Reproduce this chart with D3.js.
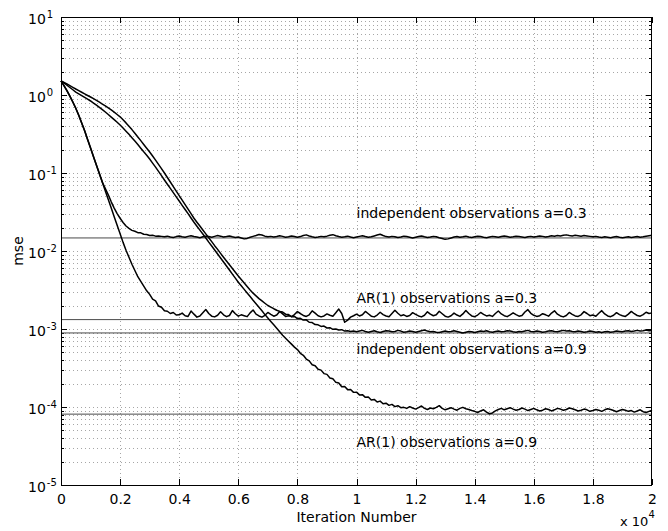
<!DOCTYPE html>
<html><head><meta charset="utf-8">
<script src="https://cdn.jsdelivr.net/npm/d3@7"></script>
<style>body{margin:0;background:#fff}</style>
</head><body>
<svg id="c" width="668" height="531"></svg>
<script>
// ---------- data ----------
const xTickValues = [0, 2000, 4000, 6000, 8000, 10000, 12000, 14000, 16000, 18000, 20000];
const xTickLabels = ["0", "0.2", "0.4", "0.6", "0.8", "1", "1.2", "1.4", "1.6", "1.8", "2"];
const yExponents = [1, 0, -1, -2, -3, -4, -5];
const iterations = d3.range(0, 20001, 100);

// independent observations a=0.3
const indep03 = [
  1.52,1.32,1.135,0.966,0.813,0.676,0.550,0.437,0.347,0.269,
  0.209,0.162,0.126,0.0977,0.0759,0.0631,0.0525,0.0427,0.0355,0.0302,
  0.0263,0.0232,0.0209,0.0195,0.0184,0.0179,0.0172,0.0171,0.0164,0.0163,
  0.0158,0.0159,0.0155,0.0156,0.0154,0.0152,0.0155,0.0151,0.0149,0.0153,
  0.0156,0.0152,0.0150,0.0154,0.0157,0.0153,0.0151,0.0148,0.0152,0.0155,
  0.0153,0.0150,0.0154,0.0158,0.0155,0.0151,0.0153,0.0156,0.0152,0.0149,
  0.0151,0.0147,0.0143,0.0145,0.0150,0.0154,0.0158,0.0163,0.0160,0.0155,
  0.0152,0.0154,0.0151,0.0153,0.0157,0.0154,0.0150,0.0152,0.0156,0.0153,
  0.0150,0.0153,0.0158,0.0161,0.0156,0.0152,0.0149,0.0151,0.0154,0.0152,
  0.0155,0.0159,0.0162,0.0157,0.0153,0.0150,0.0152,0.0155,0.0151,0.0148,
  0.0151,0.0154,0.0157,0.0153,0.0150,0.0152,0.0156,0.0160,0.0164,0.0158,
  0.0153,0.0151,0.0154,0.0152,0.0149,0.0151,0.0155,0.0153,0.0150,0.0147,
  0.0150,0.0153,0.0156,0.0152,0.0149,0.0151,0.0154,0.0152,0.0148,0.0145,
  0.0141,0.0143,0.0147,0.0151,0.0153,0.0150,0.0152,0.0155,0.0151,0.0149,
  0.0152,0.0155,0.0153,0.0150,0.0148,0.0151,0.0154,0.0152,0.0150,0.0153,
  0.0156,0.0153,0.0150,0.0152,0.0155,0.0153,0.0151,0.0149,0.0152,0.0154,
  0.0151,0.0153,0.0156,0.0154,0.0151,0.0153,0.0157,0.0155,0.0158,0.0156,
  0.0159,0.0161,0.0158,0.0156,0.0159,0.0157,0.0155,0.0158,0.0156,0.0154,
  0.0152,0.0154,0.0151,0.0149,0.0152,0.0150,0.0148,0.0151,0.0153,0.0150,
  0.0148,0.0150,0.0152,0.0149,0.0151,0.0153,0.0150,0.0152,0.0155,0.0157,
  0.0159
];

// AR(1) observations a=0.3
const ar03 = [
  1.52,1.32,1.135,0.966,0.813,0.676,0.550,0.437,0.347,0.269,
  0.209,0.162,0.126,0.0977,0.0759,0.0589,0.0457,0.0355,0.0275,0.0214,
  0.0166,0.0129,0.0102,0.00832,0.00676,0.00562,0.00468,0.00407,0.00355,0.00309,
  0.00278,0.00241,0.00229,0.00197,0.00190,0.00171,0.00169,0.00158,0.00163,0.00151,
  1.52e-3,1.60e-3,1.48e-3,1.45e-3,1.70e-3,1.55e-3,1.42e-3,1.47e-3,1.62e-3,1.78e-3,
  1.58e-3,1.46e-3,1.43e-3,1.50e-3,1.66e-3,1.52e-3,1.44e-3,1.49e-3,1.72e-3,1.57e-3,
  1.46e-3,1.52e-3,1.48e-3,1.44e-3,1.61e-3,1.75e-3,1.55e-3,1.47e-3,1.42e-3,1.50e-3,
  1.63e-3,1.54e-3,1.46e-3,1.51e-3,1.68e-3,1.56e-3,1.45e-3,1.48e-3,1.44e-3,1.53e-3,
  1.67e-3,1.58e-3,1.49e-3,1.45e-3,1.52e-3,1.71e-3,1.60e-3,1.48e-3,1.43e-3,1.47e-3,
  1.56e-3,1.50e-3,1.46e-3,1.62e-3,1.80e-3,1.58e-3,1.22e-3,1.30e-3,1.42e-3,1.48e-3,
  1.55e-3,1.47e-3,1.52e-3,1.68e-3,1.57e-3,1.46e-3,1.43e-3,1.51e-3,1.64e-3,1.53e-3,
  1.47e-3,1.44e-3,1.58e-3,1.74e-3,1.59e-3,1.48e-3,1.52e-3,1.45e-3,1.49e-3,1.62e-3,
  1.54e-3,1.47e-3,1.43e-3,1.50e-3,1.66e-3,1.55e-3,1.48e-3,1.52e-3,1.69e-3,1.57e-3,
  1.46e-3,1.42e-3,1.48e-3,1.60e-3,1.51e-3,1.45e-3,1.56e-3,1.73e-3,1.58e-3,1.47e-3,
  1.44e-3,1.51e-3,1.63e-3,1.54e-3,1.47e-3,1.50e-3,1.45e-3,1.58e-3,1.70e-3,1.56e-3,
  1.48e-3,1.44e-3,1.52e-3,1.61e-3,1.53e-3,1.46e-3,1.49e-3,1.65e-3,1.77e-3,1.59e-3,
  1.50e-3,1.45e-3,1.48e-3,1.57e-3,1.52e-3,1.46e-3,1.60e-3,1.71e-3,1.55e-3,1.47e-3,
  1.43e-3,1.49e-3,1.63e-3,1.54e-3,1.47e-3,1.45e-3,1.52e-3,1.67e-3,1.58e-3,1.48e-3,
  1.51e-3,1.46e-3,1.59e-3,1.72e-3,1.56e-3,1.47e-3,1.44e-3,1.50e-3,1.62e-3,1.53e-3,
  1.48e-3,1.45e-3,1.55e-3,1.68e-3,1.57e-3,1.49e-3,1.46e-3,1.53e-3,1.64e-3,1.58e-3,
  1.61e-3
];

// independent observations a=0.9
const indep09 = [
  1.52,1.455,1.387,1.321,1.256,1.194,1.138,1.084,1.033,0.986,
  0.942,0.897,0.853,0.809,0.766,0.724,0.684,0.643,0.603,0.562,
  0.525,0.481,0.439,0.398,0.360,0.324,0.290,0.260,0.232,0.208,
  0.186,0.165,0.146,0.129,0.114,0.100,0.0875,0.0766,0.0670,0.0586,
  0.0513,0.0449,0.0393,0.0344,0.0301,0.0263,0.0234,0.0209,0.0186,0.0166,
  0.0148,0.0132,0.0117,0.0105,0.00933,0.00832,0.00745,0.00667,0.00597,0.00535,
  0.00479,0.00431,0.00389,0.00351,0.00316,0.00288,0.00266,0.00245,0.00229,0.00214,
  0.00200,0.00191,0.00182,0.00174,0.00168,0.00165,0.00155,0.00153,0.00144,0.00145,
  0.00136,0.00137,0.00130,0.00131,0.00122,0.00121,0.00114,0.00113,0.00108,0.00109,
  0.00103,0.00104,0.00099,0.00100,0.00097,0.00098,0.00094,9.5e-4,9.3e-4,9.4e-4,
  9.2e-4,9.4e-4,9.6e-4,9.3e-4,9.1e-4,9.3e-4,9.5e-4,9.2e-4,9.0e-4,9.3e-4,
  9.5e-4,9.4e-4,9.2e-4,9.3e-4,9.6e-4,9.4e-4,9.1e-4,9.2e-4,9.4e-4,9.3e-4,
  9.1e-4,9.3e-4,9.5e-4,9.7e-4,9.4e-4,9.2e-4,9.3e-4,9.1e-4,9.0e-4,9.2e-4,
  9.4e-4,9.2e-4,9.3e-4,9.5e-4,9.3e-4,9.1e-4,8.9e-4,9.1e-4,9.3e-4,9.2e-4,
  9.0e-4,9.2e-4,9.4e-4,9.3e-4,9.5e-4,9.2e-4,9.1e-4,9.3e-4,9.4e-4,9.2e-4,
  9.3e-4,9.5e-4,9.4e-4,9.2e-4,9.1e-4,9.3e-4,9.2e-4,9.4e-4,9.6e-4,9.3e-4,
  9.2e-4,9.4e-4,9.3e-4,9.1e-4,9.2e-4,9.4e-4,9.5e-4,9.3e-4,9.2e-4,9.4e-4,
  9.6e-4,9.4e-4,9.5e-4,9.3e-4,9.2e-4,9.4e-4,9.3e-4,9.1e-4,9.2e-4,9.4e-4,
  9.3e-4,9.1e-4,9.2e-4,9.0e-4,9.2e-4,9.3e-4,9.1e-4,9.2e-4,9.4e-4,9.3e-4,
  9.2e-4,9.4e-4,9.5e-4,9.3e-4,9.4e-4,9.6e-4,9.4e-4,9.5e-4,9.7e-4,9.5e-4,
  9.6e-4
];

// AR(1) observations a=0.9
const ar09 = [
  1.52,1.426,1.334,1.247,1.167,1.091,1.035,0.982,0.931,0.883,
  0.838,0.789,0.741,0.695,0.650,0.605,0.562,0.521,0.483,0.447,
  0.412,0.377,0.344,0.313,0.284,0.257,0.232,0.208,0.187,0.169,
  0.151,0.134,0.119,0.105,0.0925,0.0813,0.0718,0.0634,0.0560,0.0494,
  0.0437,0.0385,0.0340,0.0301,0.0265,0.0234,0.0208,0.0185,0.0165,0.0147,
  0.0130,0.0116,0.0103,0.00916,0.00815,0.00724,0.00643,0.00570,0.00506,0.00449,
  0.00398,0.00358,0.00322,0.00290,0.00261,0.00234,0.00211,0.00190,0.00171,0.00153,
  0.00138,0.00125,0.00113,0.00102,0.000920,0.000832,0.000762,0.000698,0.000640,0.000586,
  5.45e-4,4.88e-4,4.60e-4,4.12e-4,3.90e-4,3.48e-4,3.38e-4,3.05e-4,2.97e-4,2.68e-4,
  2.62e-4,2.36e-4,2.30e-4,2.07e-4,2.03e-4,1.82e-4,1.83e-4,1.67e-4,1.68e-4,1.54e-4,
  1.55e-4,1.43e-4,1.44e-4,1.33e-4,1.34e-4,1.23e-4,1.25e-4,1.16e-4,1.19e-4,1.10e-4,
  1.12e-4,1.05e-4,1.08e-4,1.01e-4,1.04e-4,9.8e-5,9.9e-5,9.6e-5,10.1e-5,9.7e-5,
  9.4e-5,9.8e-5,10.3e-5,9.6e-5,9.3e-5,9.7e-5,9.5e-5,9.9e-5,10.4e-5,9.6e-5,
  9.2e-5,9.5e-5,9.8e-5,9.4e-5,9.1e-5,9.6e-5,9.9e-5,9.5e-5,9.3e-5,9.0e-5,
  8.8e-5,8.5e-5,8.9e-5,9.2e-5,8.6e-5,8.2e-5,8.4e-5,8.9e-5,9.3e-5,9.6e-5,
  9.2e-5,9.5e-5,9.8e-5,9.4e-5,9.1e-5,9.3e-5,9.7e-5,9.4e-5,9.0e-5,9.3e-5,
  9.6e-5,9.2e-5,8.9e-5,9.1e-5,9.5e-5,9.3e-5,8.9e-5,9.2e-5,9.6e-5,9.4e-5,
  9.1e-5,9.3e-5,9.7e-5,9.5e-5,9.2e-5,8.9e-5,9.1e-5,9.4e-5,9.2e-5,8.8e-5,
  9.0e-5,9.3e-5,9.1e-5,8.8e-5,9.2e-5,9.5e-5,9.3e-5,9.0e-5,8.7e-5,9.0e-5,
  9.3e-5,9.1e-5,8.8e-5,9.0e-5,8.6e-5,8.9e-5,9.2e-5,8.7e-5,8.5e-5,8.8e-5,
  9.1e-5
];

// theoretical steady-state levels (horizontal lines)
const steadyLevels = [0.0147, 0.00132, 0.00089, 0.000081];

// annotations
const labelTexts = ["independent observations a=0.3", "AR(1) observations a=0.3",
                    "independent observations a=0.9", "AR(1) observations a=0.9"];
const labelIter = [10000, 10000, 10000, 10000];
const labelMse = [0.0265, 0.00216, 0.00048, 0.0000307];

// ---------- drawing ----------
const FONT = "DejaVu Sans, Liberation Sans, Arial, sans-serif";
const svg = d3.select("#c");
const L = 61, R = 652, T = 17, B = 485;
const x = d3.scaleLinear().domain([0, 20000]).range([L, R]);
const y = d3.scaleLog().domain([1e-5, 10]).range([B, T]);

const majorVals = yExponents.map(e => Math.pow(10, e));
const minorVals = [];
yExponents.forEach(e => { if (e < 1) for (let k = 2; k <= 9; k++) minorVals.push(k * Math.pow(10, e)); });
const gridVals = majorVals.concat(minorVals).filter(v => v > 1e-5 && v < 10);

// grid
const grid = svg.append("g").attr("stroke", "#a6a6a6").attr("stroke-width", 1)
  .attr("stroke-dasharray", "1,3").attr("shape-rendering", "crispEdges");
grid.selectAll("line.h").data(gridVals).join("line").attr("class", "h")
  .attr("x1", L).attr("x2", R)
  .attr("y1", d => Math.round(y(d)) + 0.5).attr("y2", d => Math.round(y(d)) + 0.5);
grid.selectAll("line.v").data(xTickValues.slice(1, -1)).join("line").attr("class", "v")
  .attr("y1", T).attr("y2", B)
  .attr("x1", d => Math.round(x(d)) + 0.5).attr("x2", d => Math.round(x(d)) + 0.5);

// axes ticks (inward)
function styleAxis(g) {
  g.select(".domain").remove();
  g.selectAll(".tick line").attr("stroke", "#000").attr("shape-rendering", "crispEdges");
}
svg.append("g").attr("transform", `translate(0,${B})`)
  .call(d3.axisBottom(x).tickValues(xTickValues).tickFormat((d, i) => xTickLabels[i])
    .tickSizeInner(-6).tickSizeOuter(0).tickPadding(9))
  .call(styleAxis)
  .call(g => g.selectAll("text").attr("font-family", FONT).attr("font-size", 14).attr("fill", "#000"));
svg.append("g").attr("transform", `translate(0,${T})`)
  .call(d3.axisTop(x).tickValues(xTickValues).tickFormat("").tickSizeInner(-6).tickSizeOuter(0))
  .call(styleAxis);
svg.append("g").attr("transform", `translate(${L},0)`)
  .call(d3.axisLeft(y).tickValues(majorVals).tickFormat("").tickSizeInner(-6).tickSizeOuter(0))
  .call(styleAxis);
svg.append("g").attr("transform", `translate(${L},0)`)
  .call(d3.axisLeft(y).tickValues(minorVals).tickFormat("").tickSizeInner(-3).tickSizeOuter(0))
  .call(styleAxis);
svg.append("g").attr("transform", `translate(${R},0)`)
  .call(d3.axisRight(y).tickValues(majorVals).tickFormat("").tickSizeInner(-6).tickSizeOuter(0))
  .call(styleAxis);
svg.append("g").attr("transform", `translate(${R},0)`)
  .call(d3.axisRight(y).tickValues(minorVals).tickFormat("").tickSizeInner(-3).tickSizeOuter(0))
  .call(styleAxis);

// y tick labels 10^e
const yl = svg.append("g").attr("font-family", FONT).attr("fill", "#000");
yExponents.forEach(e => {
  const t = yl.append("text").attr("x", 28).attr("y", y(Math.pow(10, e)) + 6.5).attr("font-size", 14);
  t.append("tspan").text("10");
  t.append("tspan").attr("dy", -6).attr("dx", 1).attr("font-size", 10).text(String(e));
});

// steady-state lines
svg.append("g").selectAll("line").data(steadyLevels).join("line")
  .attr("x1", L).attr("x2", R)
  .attr("y1", d => y(d)).attr("y2", d => y(d))
  .attr("stroke", "#4a4a4a").attr("stroke-width", 1);

// curves
const line = d3.line().x((d, i) => x(iterations[i])).y(d => y(d));
svg.append("g").selectAll("path").data([indep03, ar03, indep09, ar09]).join("path")
  .attr("d", d => line(d)).attr("fill", "none").attr("stroke", "#000")
  .attr("stroke-width", 1.5).attr("stroke-linejoin", "round");

// frame
svg.append("rect").attr("x", L + 0.5).attr("y", T + 0.5).attr("width", R - L - 1).attr("height", B - T)
  .attr("fill", "none").attr("stroke", "#000").attr("stroke-width", 1).attr("shape-rendering", "crispEdges");

// annotations
svg.append("g").attr("font-family", FONT).attr("font-size", 14).attr("fill", "#000")
  .selectAll("text").data(labelTexts).join("text")
  .attr("x", (d, i) => x(labelIter[i])).attr("y", (d, i) => y(labelMse[i]))
  .text(d => d);

// axis titles
svg.append("text").attr("x", (L + R) / 2).attr("y", 522).attr("text-anchor", "middle")
  .attr("font-family", FONT).attr("font-size", 14).text("Iteration Number");
const xs = svg.append("text").attr("x", 620).attr("y", 526).attr("font-family", FONT).attr("font-size", 13);
xs.append("tspan").text("x 10");
xs.append("tspan").attr("dy", -8).attr("font-size", 10).text("4");
svg.append("text").attr("transform", "translate(23,251) rotate(-90)").attr("text-anchor", "middle")
  .attr("font-family", FONT).attr("font-size", 14).text("mse");
</script>
</body></html>
